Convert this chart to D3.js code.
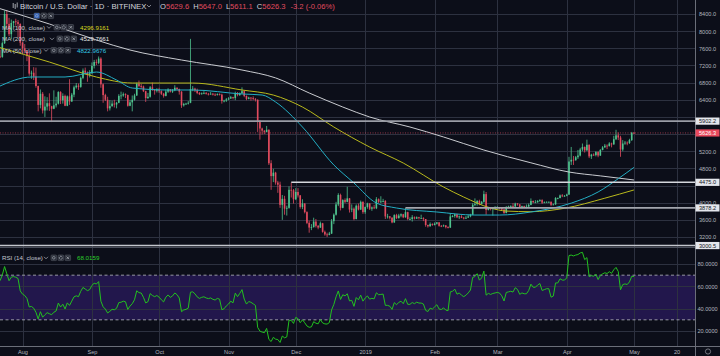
<!DOCTYPE html>
<html><head><meta charset="utf-8">
<script src="https://cdn.jsdelivr.net/npm/d3@7"></script>
<style>html,body{margin:0;padding:0;background:#0c0e19;}svg{display:block;}</style>
</head><body><svg id="c" width="720" height="356"></svg>
<script>
// ---------- DATA (BITFINEX BTC/USD, daily, from 2018-07-07) ----------
const startDay = "2018-07-07";
const opens = [
6610,6750,6710,6670,6310,6390,6250,6230,6270,6360,6740,7330,7380,7480,7340,7410,7400,7720,8400,8170,7930,8190,8230,8210,8170,
7730,7600,7540,7420,7010,7030,6940,6720,6280,6540,6150,6240,6320,6250,6190,6270,6310,6580,6390,6490,6260,6480,6360,6520,6690,6730,6700,6910,7080,7030,6980,
7020,7190,7280,7260,7360,6760,6510,6400,6200,6250,6310,6290,6330,6490,6500,6530,6510,6260,6340,6400,6500,6770,6720,6710,6600,6440,6470,6690,6640,6610,
6640,6600,6540,6490,6590,6640,6590,6620,6680,6650,6590,6270,6300,6310,6330,6650,6660,6620,6560,6530,6550,6560,6540,6530,6540,6520,6510,6530,6520,6370,6380,
6410,6430,6460,6440,6550,6510,6550,6600,6490,6420,6450,6440,6420,6400,5900,5730,5680,5650,5700,4920,4620,4700,4470,4420,3950,4090,3860,3880,4300,4290,
4080,4250,4170,3900,3980,3780,3530,3420,3430,3560,3460,3420,3520,3320,3260,3250,3280,3570,3720,3960,4180,3880,4060,4020,4100,3840,3860,3620,3930,3840,4020,
3780,3900,3980,3860,3890,3870,4080,4020,4030,4040,3680,3680,3650,3540,3710,3640,3700,3730,3660,3780,3620,3620,3660,3630,3660,3640,3640,3620,3480,3450,3500,
3480,3510,3540,3460,3450,3470,3430,3420,3680,3690,3730,3660,3680,3650,3630,3650,3680,3720,3950,3970,4040,3970,4020,4200,3830,3870,3850,3870,
3880,3890,3880,3840,3760,3900,3910,3920,3910,3980,3960,3900,3920,3910,3910,3950,4040,4010,4010,4040,4060,4000,4010,4020,4020,3950,3960,4110,4110,4170,4160,
4160,4190,4960,5000,4990,5060,5100,5240,5300,5220,5350,5080,5120,5110,5180,5100,5230,5290,5330,5320,5380,5360,5480,5570,5520,5240,5380,5400,5390,5460,
5629.6];
const highs = [
6790,6800,6800,6690,6410,6400,6330,6300,6400,6750,7460,7590,7570,7690,7440,7570,7760,8480,8490,8310,8270,8240,8290,8260,8180,
7760,7700,7550,7500,7080,7160,7150,6730,6640,6580,6480,6460,6550,6260,6620,6470,6600,6600,6550,6520,6500,6880,6560,6730,6790,6780,6940,7130,7150,7060,7090,
7270,7330,7340,7410,7390,6780,6540,6470,6390,6380,6400,6350,6530,6590,6570,6550,6520,6400,6500,6540,6800,6850,6770,6730,6610,6560,6720,6800,6650,6670,
6680,6620,6560,6640,6670,6650,6650,6740,6690,6660,6600,6330,6330,6370,7820,6720,6680,6660,6580,6570,6600,6580,6560,6580,6560,6550,6550,6550,6540,6400,6440,
6460,6490,6470,6590,6580,6570,6690,6620,6500,6470,6460,6480,6440,6410,5930,5750,5690,5790,5710,4990,4790,4720,4510,4490,4180,4160,3930,4380,4470,4320,
4340,4340,4180,4080,3990,3800,3580,3500,3650,3620,3480,3560,3530,3350,3300,3320,3620,3750,4020,4220,4210,4080,4100,4370,4110,3960,3890,3960,3980,4050,4030,
3910,4000,3990,3910,3950,4130,4100,4150,4090,4060,3740,3690,3660,3730,3740,3740,3750,3740,3880,3790,3660,3710,3680,3680,3670,3720,3660,3620,3490,3540,3520,
3540,3550,3550,3480,3490,3480,3450,3760,3710,3740,3740,3700,3710,3670,3690,3720,3740,3990,4100,4060,4070,4040,4280,4250,3900,3880,3890,3920,
3920,3900,3890,3850,3920,3930,3940,3990,4000,3990,3970,3930,3930,3960,3980,4100,4050,4060,4060,4080,4080,4030,4030,4030,4030,3980,4130,4120,4190,4200,4180,
4210,5070,5300,5090,5090,5230,5280,5380,5310,5470,5360,5140,5150,5200,5200,5250,5320,5370,5360,5410,5400,5560,5700,5640,5560,5460,5440,5430,5490,5650,
5647.0];
const lows = [
6580,6690,6640,6290,6290,6180,6150,6200,6250,6340,6680,7270,7290,7290,7240,7370,7380,7700,8060,7880,7810,8090,8130,7860,7660,
7470,7480,7300,6960,6890,6860,6680,6130,6200,6080,6000,6150,6140,5880,6180,6220,6290,6300,6310,6250,6250,6280,6350,6460,6660,6630,6680,6880,6990,6820,6920,
7000,7130,7210,7230,6680,6330,6370,6130,6150,6240,6220,6200,6320,6410,6470,6440,6240,6250,6130,6380,6490,6690,6650,6580,6350,6420,6450,6610,6520,6570,
6560,6510,6450,6480,6560,6570,6560,6600,6620,6520,6210,6240,6280,6290,6320,6600,6580,6530,6510,6520,6530,6520,6500,6520,6500,6490,6500,6500,6310,6340,6350,
6390,6420,6410,6390,6480,6490,6540,6460,6390,6410,6380,6390,6360,5650,5470,5590,5600,5640,4880,4300,4480,4420,4230,3880,3600,3720,3700,3860,4120,3980,
4060,4120,3860,3850,3750,3500,3300,3360,3420,3420,3380,3410,3300,3230,3200,3240,3270,3500,3700,3920,3820,3870,3990,4010,3770,3780,3590,3610,3820,3830,3740,
3740,3860,3830,3810,3850,3850,3990,3990,4010,3620,3630,3610,3520,3530,3620,3630,3660,3640,3650,3590,3590,3560,3610,3620,3610,3630,3570,3440,3420,3440,3460,
3470,3490,3440,3430,3440,3400,3400,3410,3660,3650,3640,3620,3640,3610,3620,3650,3660,3710,3920,3930,3940,3960,4000,3720,3820,3820,3700,3840,
3870,3850,3820,3740,3750,3870,3890,3880,3900,3930,3880,3870,3890,3870,3900,3940,3990,3990,4000,4020,3970,3990,4000,4000,3920,3940,3950,4080,4100,4130,4140,
4150,4180,4880,4880,4980,5020,5080,5200,5170,5210,5040,5020,5090,5080,5060,5090,5220,5280,5250,5310,5290,5350,5460,5460,5070,5200,5350,5340,5370,5440,
5611.1];
const closes = [
6750,6710,6670,6310,6390,6250,6230,6270,6360,6740,7330,7380,7480,7340,7410,7400,7720,8400,8170,7930,8190,8230,8210,8170,7730,
7600,7540,7420,7010,7030,6940,6720,6280,6540,6150,6240,6320,6250,6190,6270,6310,6580,6390,6490,6260,6480,6360,6520,6690,6730,6700,6910,7080,7030,6980,7020,
7190,7280,7260,7360,6760,6510,6400,6200,6250,6310,6290,6330,6490,6500,6530,6510,6260,6340,6400,6500,6770,6720,6710,6600,6440,6470,6690,6640,6610,6640,
6600,6540,6490,6590,6640,6590,6620,6680,6650,6590,6270,6300,6310,6330,6650,6660,6620,6560,6530,6550,6560,6540,6530,6540,6520,6510,6530,6520,6370,6380,6410,
6430,6460,6440,6550,6510,6550,6600,6490,6420,6450,6440,6420,6400,5900,5730,5680,5650,5700,4920,4620,4700,4470,4420,3950,4090,3860,3880,4300,4290,4080,
4250,4170,3900,3980,3780,3530,3420,3430,3560,3460,3420,3520,3320,3260,3250,3280,3570,3720,3960,4180,3880,4060,4020,4100,3840,3860,3620,3930,3840,4020,3780,
3900,3980,3860,3890,3870,4080,4020,4030,4040,3680,3680,3650,3540,3710,3640,3700,3730,3660,3780,3620,3620,3660,3630,3660,3640,3640,3620,3480,3450,3500,3480,
3510,3540,3460,3450,3470,3430,3420,3680,3690,3730,3660,3680,3650,3630,3650,3680,3720,3950,3970,4040,3970,4020,4200,3830,3870,3850,3870,3880,
3890,3880,3840,3760,3900,3910,3920,3910,3980,3960,3900,3920,3910,3910,3950,4040,4010,4010,4040,4060,4000,4010,4020,4020,3950,3960,4110,4110,4170,4160,4160,
4190,4960,5000,4990,5060,5100,5240,5300,5220,5350,5080,5120,5110,5180,5100,5230,5290,5330,5320,5380,5360,5480,5570,5520,5240,5380,5400,5390,5460,5629.5,
5626.3];

// Moving averages (date, value)
const ma200 = [["2018-07-21",8540],["2018-08-13",8167],["2018-09-03",7794],["2018-09-18",7560],["2018-10-11",7327],["2018-11-07",7094],["2018-11-22",6910],["2018-12-07",6558],["2018-12-22",6231],["2019-01-03",5998],["2019-01-21",5765],["2019-02-05",5532],["2019-02-23",5228],["2019-03-16",4930],["2019-04-02",4715],["2019-04-16",4625],["2019-05-01",4529.77]];
const ma100 = [["2018-07-21",7630],["2018-08-13",7280],["2018-09-03",6930],["2018-09-19",6790],["2018-10-16",6790],["2018-11-07",6628],["2018-11-21",6510],["2018-12-04",6231],["2018-12-18",5765],["2019-01-03",5298],["2019-01-18",4925],["2019-02-05",4365],["2019-02-14",4132],["2019-02-26",3876],["2019-03-05",3805],["2019-03-16",3790],["2019-03-31",3870],["2019-04-18",4105],["2019-05-01",4296.92]];
const ma50 = [["2018-07-21",6698],["2018-08-05",6931],["2018-08-20",6931],["2018-09-03",7047],["2018-09-12",6861],["2018-09-19",6674],["2018-10-05",6628],["2018-10-16",6628],["2018-11-07",6535],["2018-11-16",6511],["2018-11-22",6348],["2018-12-04",5765],["2018-12-18",4880],["2018-12-27",4459],["2019-01-06",3992],["2019-01-15",3876],["2019-02-02",3783],["2019-02-19",3712],["2019-03-02",3712],["2019-03-16",3783],["2019-04-03",3990],["2019-04-15",4250],["2019-04-24",4560],["2019-05-01",4822.97]];

// drawn horizontal levels
const levelValues = [5902.2, 4475.0, 3878.2, 3000.5];
const levelStarts = [null, "2018-11-29", "2019-01-19", null];
const levelColors = ["#9a9da6", "#d6d8de", "#a3a6ae", "#c3c6cd"];

// axis ticks
const priceTicks = [3200,3600,4000,4400,4800,5200,5600,6000,6400,6800,7200,7600,8000,8400];
const rsiTicks = [20,40,60,80];
const timeTicks = ["2018-08-01","2018-09-01","2018-10-01","2018-11-01","2018-12-01","2019-01-01","2019-02-01","2019-03-01","2019-04-01","2019-05-01","2019-05-20"];
const timeLabels = ["Aug","Sep","Oct","Nov","Dec","2019","Feb","Mar","Apr","May","20"];

const legendMA = [
  {label:"MA (100, close)", value:"4296.9161", color:"#d9d91e"},
  {label:"MA (200, close)", value:"4529.7661", color:"#e6e6e6"},
  {label:"MA (50, close)",  value:"4822.9676", color:"#33c9e6"}
];

// ---------- DRAW ----------
const W=720, H=356, PR=695, MAIN_B=247, RSI_T=248, RSI_B=346;
const FONT = "'Liberation Sans', Arial, sans-serif";
const BG="#0c0e19", GRID="#2d3140", UP="#4fc48f", DN="#e14b5f", TXT="#b2b5be";
const parse = s => new Date(s+"T00:00:00Z");
const t0 = parse(startDay).getTime();
const dates = closes.map((_,i)=>new Date(t0 + i*86400000));

const x = d3.scaleUtc().domain([parse("2018-08-01"), parse("2019-05-20")]).range([22.5, 676.5]);
const y = d3.scaleLinear().domain([3200,8400]).range([237,14]);
const yr = d3.scaleLinear().domain([20,80]).range([331,264]);

// RSI(14) via Wilder smoothing
function rsi(v, n){
  const out = v.map(()=>null);
  let g=0,l=0;
  for(let i=1;i<=n;i++){const d=v[i]-v[i-1]; if(d>0) g+=d; else l-=d;}
  g/=n; l/=n; out[n]=100-100/(1+g/l);
  for(let i=n+1;i<v.length;i++){
    const d=v[i]-v[i-1];
    g=(g*(n-1)+Math.max(d,0))/n; l=(l*(n-1)+Math.max(-d,0))/n;
    out[i]= l===0?100:100-100/(1+g/l);
  }
  return out;
}
const rsiVals = rsi(closes,14);

const svg = d3.select("#c");
svg.append("rect").attr("width",W).attr("height",H).attr("fill",BG);
const defs = svg.append("defs");
defs.append("clipPath").attr("id","cm").append("rect").attr("x",0).attr("y",0).attr("width",PR).attr("height",MAIN_B);
defs.append("clipPath").attr("id","cr").append("rect").attr("x",0).attr("y",RSI_T).attr("width",PR).attr("height",RSI_B-RSI_T);

// RSI band (under grid)
svg.append("rect").attr("x",0).attr("width",PR).attr("y",yr(70)).attr("height",yr(30)-yr(70))
  .attr("fill","#22174c");

// grid
const g = svg.append("g").attr("stroke",GRID).attr("stroke-width",1);
g.selectAll(".vg").data(timeTicks).join("line")
  .attr("x1",d=>Math.round(x(parse(d)))+0.5).attr("x2",d=>Math.round(x(parse(d)))+0.5)
  .attr("y1",0).attr("y2",RSI_B);
g.selectAll(".hg").data(priceTicks).join("line")
  .attr("x1",0).attr("x2",PR).attr("y1",d=>Math.round(y(d))+0.5).attr("y2",d=>Math.round(y(d))+0.5);
const gr = svg.append("g").attr("stroke",GRID).attr("stroke-width",1);
gr.selectAll("line").data(rsiTicks).join("line")
  .attr("x1",0).attr("x2",PR).attr("y1",d=>Math.round(yr(d))+0.5).attr("y2",d=>Math.round(yr(d))+0.5);

[70,30].forEach(v=>svg.append("line").attr("x1",0).attr("x2",PR).attr("y1",yr(v)).attr("y2",yr(v))
  .attr("stroke","#b8bac2").attr("stroke-width",0.8).attr("stroke-dasharray","3,2.5"));

// candles
const main = svg.append("g").attr("clip-path","url(#cm)");
const idx = d3.range(closes.length);
const cg = main.append("g");
cg.selectAll(".w").data(idx).join("line")
  .attr("x1",i=>x(dates[i])).attr("x2",i=>x(dates[i]))
  .attr("y1",i=>y(highs[i])).attr("y2",i=>y(lows[i]))
  .attr("stroke",i=>closes[i]>=opens[i]?UP:DN).attr("stroke-width",0.8);
cg.selectAll(".b").data(idx).join("rect")
  .attr("x",i=>x(dates[i])-0.8).attr("width",1.6)
  .attr("y",i=>y(Math.max(opens[i],closes[i])))
  .attr("height",i=>Math.max(0.8, Math.abs(y(opens[i])-y(closes[i]))))
  .attr("fill",i=>closes[i]>=opens[i]?UP:DN);

// moving averages
const maLine = d3.line().x(d=>x(parse(d[0]))).y(d=>y(d[1])).curve(d3.curveMonotoneX);
[[ma200,"#c9cbd0"],[ma100,"#b9b91c"],[ma50,"#23aec4"]].forEach(([d,c])=>
  main.append("path").attr("d",maLine(d)).attr("fill","none").attr("stroke",c).attr("stroke-width",1));

// levels
levelValues.forEach((v,i)=>{
  const x0 = levelStarts[i] ? x(parse(levelStarts[i])) : 0;
  main.append("line").attr("x1",x0).attr("x2",PR).attr("y1",y(v)).attr("y2",y(v))
    .attr("stroke",levelColors[i]).attr("stroke-width",1.6);
});
// last price dotted line
const last = closes[closes.length-1];
svg.append("line").attr("x1",0).attr("x2",PR).attr("y1",y(last)).attr("y2",y(last))
  .attr("stroke",DN).attr("stroke-width",0.8).attr("stroke-dasharray","1,1.5").attr("opacity",0.8);

// RSI line
const rsiG = svg.append("g").attr("clip-path","url(#cr)");
const rsiPts = idx.filter(i=>rsiVals[i]!==null);
rsiG.append("path").attr("d",d3.line().x(i=>x(dates[i])).y(i=>yr(rsiVals[i]))(rsiPts))
  .attr("fill","none").attr("stroke","#22c11f").attr("stroke-width",1);

// separators / borders
svg.append("line").attr("x1",0).attr("x2",PR).attr("y1",MAIN_B+0.5).attr("y2",MAIN_B+0.5).attr("stroke","#4a4e5b").attr("stroke-width",1);
svg.append("line").attr("x1",PR+0.5).attr("x2",PR+0.5).attr("y1",0).attr("y2",H).attr("stroke","#6b6e79").attr("stroke-width",1);
svg.append("line").attr("x1",0).attr("x2",W).attr("y1",RSI_B+0.5).attr("y2",RSI_B+0.5).attr("stroke","#6b6e79").attr("stroke-width",1);

// price axis
const boxVals = [levelValues[0], last, levelValues[1], levelValues[2], levelValues[3]];
const pAxis = svg.append("g").attr("transform",`translate(${PR+12.5},0)`)
  .call(d3.axisRight(y).tickValues(priceTicks.filter(v=>!boxVals.some(b=>Math.abs(y(b)-y(v))<4.5))).tickSize(0).tickFormat(d3.format(".1f")));
const rAxis = svg.append("g").attr("transform",`translate(${PR+12.5},0)`)
  .call(d3.axisRight(yr).tickValues(rsiTicks).tickSize(0).tickFormat(d3.format(".4f")));
[pAxis,rAxis].forEach(a=>{
  a.select(".domain").remove();
  a.selectAll("text").attr("x",0).attr("text-anchor","middle").attr("dy","0.35em")
    .attr("fill",TXT).style("font-family",FONT).style("font-size","5.6px");
});
// price label boxes
const boxes = [
  {v:levelValues[0], fill:"#e4e6ec", tc:"#131722"},
  {v:last, fill:"#e9495d", tc:"#ffffff"},
  {v:levelValues[1], fill:"#e4e6ec", tc:"#131722"},
  {v:levelValues[2], fill:"#e4e6ec", tc:"#131722"},
  {v:levelValues[3], fill:"#e4e6ec", tc:"#131722"}
];
const bg = svg.append("g");
boxes.forEach(b=>{
  bg.append("rect").attr("x",PR+0.5).attr("y",y(b.v)-3.6).attr("width",24).attr("height",7.2).attr("fill",b.fill);
  bg.append("text").attr("x",PR+12.5).attr("y",y(b.v)).attr("dy","0.35em").attr("text-anchor","middle")
    .attr("fill",b.tc).style("font-family",FONT).style("font-size","5.6px").text(d3.format(".1f")(b.v));
});

// time axis
const tAxis = svg.append("g").attr("transform",`translate(0,${RSI_B})`)
  .call(d3.axisBottom(x).tickValues(timeTicks.map(parse)).tickSize(0).tickFormat((d,i)=>timeLabels[i]));
tAxis.select(".domain").remove();
tAxis.selectAll("text").attr("y",6.5).attr("dy","0.35em").attr("fill",TXT)
  .style("font-family",FONT).style("font-size","5.6px");
// gear icon
svg.append("circle").attr("cx",708).attr("cy",351.5).attr("r",2.6).attr("fill","none").attr("stroke","#8a8d97").attr("stroke-width",0.8);

// ---------- LEGENDS ----------
const L = svg.append("g").style("font-family",FONT);
function chevron(px,py){ L.append("path").attr("d",`M${px},${py} l2,2 l2,-2`).attr("fill","none").attr("stroke","#b2b5be").attr("stroke-width",0.7); }
function icons(px,py,first){
  [0,1,2].forEach(k=>{
    const ix=px+k*7;
    L.append("rect").attr("x",ix).attr("y",py).attr("width",5.6).attr("height",5.6).attr("rx",0.8)
      .attr("fill",first&&k===0?"#2f5fb8":"#2a2e39").attr("stroke","#5d606b").attr("stroke-width",0.5);
    if(k===0) L.append("circle").attr("cx",ix+2.8).attr("cy",py+2.8).attr("r",1.3).attr("fill","none").attr("stroke","#c9ccd4").attr("stroke-width",0.5);
    if(k===1) L.append("circle").attr("cx",ix+2.8).attr("cy",py+2.8).attr("r",1.5).attr("fill","none").attr("stroke","#c9ccd4").attr("stroke-width",0.8).attr("stroke-dasharray","0.8,0.6");
    if(k===2) L.append("path").attr("d",`M${ix+1.5},${py+1.5} L${ix+4.1},${py+4.1} M${ix+4.1},${py+1.5} L${ix+1.5},${py+4.1}`).attr("stroke","#c9ccd4").attr("stroke-width",0.6);
  });
}
// candle icon
[[13.2,3,8],[15.2,4,9],[17.2,2.5,7.5]].forEach(([cx,a,b])=>L.append("line").attr("x1",cx).attr("x2",cx).attr("y1",a).attr("y2",b).attr("stroke","#c9ccd4").attr("stroke-width",0.8));
L.append("text").attr("x",20).attr("y",8.8).attr("fill","#d1d4dc").style("font-size","7.8px").text("Bitcoin / U.S. Dollar · 1D · BITFINEX");
chevron(147,5);
// OHLC values chained left to right
const ohlc = [["O",opens[opens.length-1]],["H",highs[highs.length-1]],["L",lows[lows.length-1]],["C",last]];
let cx = 160;
ohlc.forEach(([k,v])=>{
  const t=L.append("text").attr("x",cx).attr("y",8.8).style("font-size","7.6px");
  t.append("tspan").attr("fill","#d1d4dc").text(k);
  t.append("tspan").attr("fill",DN).text(d3.format(".1f")(v));
  cx += t.node().getComputedTextLength() + 4;
});
const chg = last - closes[closes.length-2];
L.append("text").attr("x",cx+1).attr("y",8.8).attr("fill",DN).style("font-size","7.6px")
  .text(`${d3.format(".1f")(chg).replace("−","-")} (${d3.format(".2f")(chg/closes[closes.length-2]*100).replace("−","-")}%)`);
icons(34,13,true);
const rowsY=[29.5,41,52.5], iconX=[54,57,51], valX=[80,80,77];
legendMA.forEach((m,i)=>{
  L.append("text").attr("x",2).attr("y",rowsY[i]).attr("fill","#c4c7cf").style("font-size","6.2px").text(m.label);
  chevron(iconX[i]-7,rowsY[i]-3.2);
  icons(iconX[i],rowsY[i]-5,false);
  L.append("text").attr("x",valX[i]).attr("y",rowsY[i]).attr("fill",m.color).style("font-size","6.2px").text(m.value);
});
// RSI legend
L.append("text").attr("x",2).attr("y",260).attr("fill","#c4c7cf").style("font-size","6.2px").text("RSI (14, close)");
chevron(44,256.8);
icons(51,255,false);
L.append("text").attr("x",77).attr("y",260).attr("fill","#2bd12b").style("font-size","6.2px").text(d3.format(".4f")(68.0159));
</script></body></html>
